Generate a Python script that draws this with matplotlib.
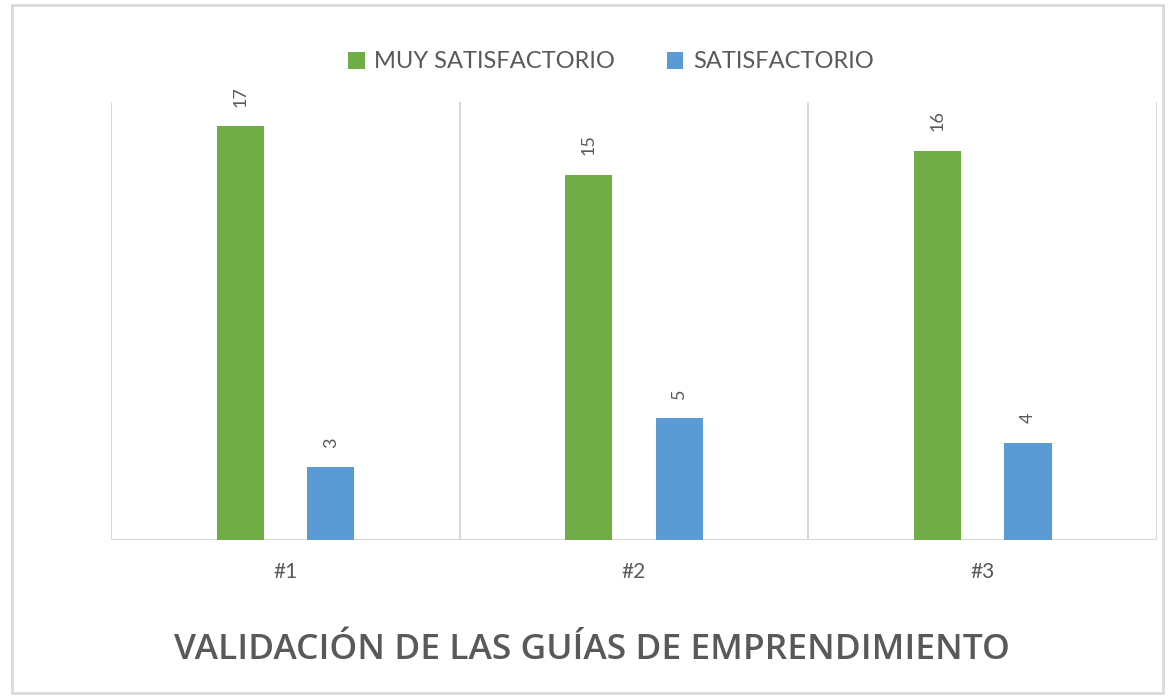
import matplotlib.pyplot as plt
import numpy as np
from matplotlib.patches import Rectangle

categories = ["#1", "#2", "#3"]
muy_satisfactorio = [17, 15, 16]
satisfactorio = [3, 5, 4]

GREEN = "#70AD47"
BLUE = "#5B9BD5"
TEXT = "#595959"
GRID = "#D9D9D9"

plt.rcParams["font.family"] = ["Lato", "DejaVu Sans"]

fig = plt.figure(figsize=(11.7, 6.98), dpi=100)
ax = fig.add_axes([0.0949, 0.2264, 0.8940, 0.6276])

x = np.arange(len(categories))
w = 0.135
off = 0.13
b1 = ax.bar(x - off, muy_satisfactorio, w, color=GREEN, label="MUY SATISFACTORIO")
b2 = ax.bar(x + off, satisfactorio, w, color=BLUE, label="SATISFACTORIO")

for bars in (b1, b2):
    for r in bars:
        ax.annotate(f"{r.get_height():.0f}", (r.get_x() + r.get_width() / 2, r.get_height()),
                    xytext=(0, 14), textcoords="offset points", rotation=90,
                    ha="center", va="bottom", fontsize=13, color=TEXT)

ax.set_xlim(-0.5, 2.5)
ax.set_ylim(0, 18)
ax.set_yticks([])
ax.set_xticks(x)
ax.set_xticklabels(categories, fontsize=15, color=TEXT)
ax.tick_params(axis="x", length=0, pad=16)
for s in ax.spines.values():
    s.set_visible(False)
ax.axhline(0, color=GRID, lw=1.5, zorder=0)
for xv in [-0.5, 0.5, 1.5, 2.5]:
    ax.axvline(xv, color=GRID, lw=1.5, zorder=0)

leg = ax.legend(loc="center", ncol=2, frameon=False, fontsize=17,
                handlelength=0.7, handleheight=0.7, handletextpad=0.4,
                columnspacing=2.2, labelcolor=TEXT)
leg.set_bbox_to_anchor((0.522, 1 - 62 / 698), transform=fig.transFigure)

fig.text(0.506, 1 - 650 / 698, "VALIDACIÓN DE LAS GUÍAS DE EMPRENDIMIENTO",
         ha="center", va="center", fontsize=25.5, fontweight="semibold",
         family=["Open Sans", "DejaVu Sans"], color=TEXT)

fig.patches.append(Rectangle((12 / 1170, 5 / 698), 1151 / 1170, 688 / 698,
                             transform=fig.transFigure, fill=False,
                             edgecolor=GRID, lw=2))

fig.savefig("out.png", dpi=100)
